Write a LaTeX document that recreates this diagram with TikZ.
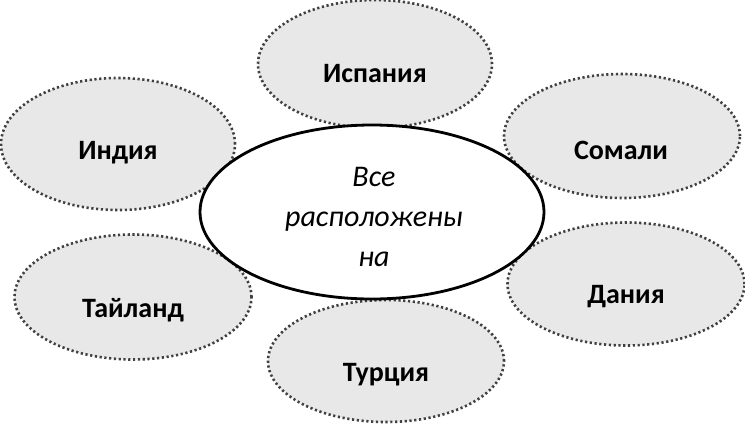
\documentclass[tikz,border=0pt]{standalone}
\usepackage{fontspec}
\setmainfont{Carlito}
\usetikzlibrary{shapes.geometric}
\definecolor{dotgray}{HTML}{404040}
\definecolor{fillgray}{HTML}{E8E8E8}
\begin{document}
\begin{tikzpicture}[x=1pt,y=-1pt,
  outer/.style={ellipse, draw=dotgray, fill=fillgray, line width=2.6pt,
    dash pattern=on 2.2pt off 2.6pt, inner sep=0pt},
  lbl/.style={font=\fontsize{28}{32}\selectfont\bfseries, text=black, inner sep=0pt},
  center/.style={ellipse, draw=black, fill=white, line width=2.8pt, inner sep=0pt}]
\useasboundingbox (0,0) rectangle (745,424);
\node[outer, minimum width=234pt, minimum height=128pt] (isp) at (375,64) {};
\node[outer, minimum width=234pt, minimum height=132pt] (ind) at (118,144) {};
\node[outer, minimum width=236pt, minimum height=124pt] (som) at (622,136) {};
\node[outer, minimum width=237pt, minimum height=125pt] (tai) at (133,297) {};
\node[outer, minimum width=237pt, minimum height=123pt] (dan) at (626,284) {};
\node[outer, minimum width=236pt, minimum height=122pt] (tur) at (386,361) {};
\node[center, minimum width=344pt, minimum height=174pt] (mid) at (372,212) {};
\node[lbl] (ispt) at (375,74) {Испания};
\node[lbl] (indt) at (118,153) {Индия};
\node[lbl] (somt) at (621,150) {Сомали};
\node[lbl] (tait) at (133,310) {Тайланд};
\node[lbl] (dant) at (626,297) {Дания};
\node[lbl] (turt) at (386,375) {Турция};
\node[font=\fontsize{30}{35}\selectfont\itshape, align=center, inner sep=0pt] (midt) at (374,217) {Все\\[5pt]расположены\\[5pt]на};
\end{tikzpicture}
\end{document}
